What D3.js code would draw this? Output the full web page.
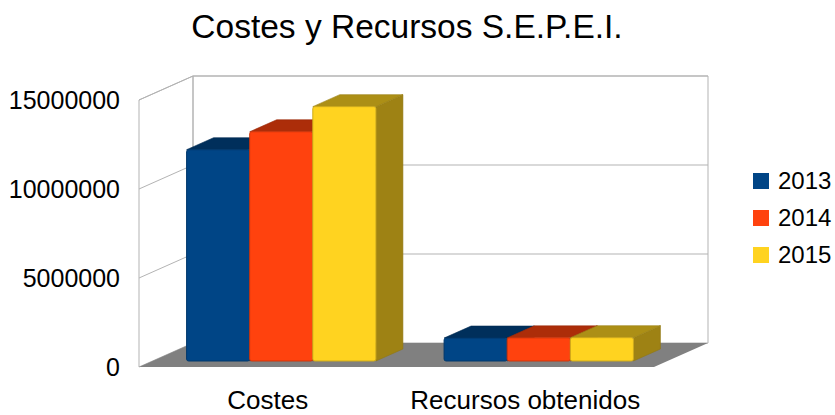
<!DOCTYPE html>
<html lang="es">
<head>
<meta charset="UTF-8">
<title>Costes y Recursos S.E.P.E.I.</title>
<script src="https://d3js.org/d3.v7.min.js"></script>
<style>
  body { margin: 0; background: #fff; }
  svg text { font-family: "Liberation Sans", Arial, sans-serif; fill: #000; }
  .wall { fill: none; stroke: #b3b3b3; stroke-width: 1; }
  .grid { stroke: #b3b3b3; stroke-width: 1; }
</style>
</head>
<body>
<svg id="chart" width="835" height="415"></svg>
<script>
const categories = ["Costes", "Recursos obtenidos"];
const years = ["2013", "2014", "2015"];
const values2013 = [11870000, 1290000];
const values2014 = [12880000, 1300000];
const values2015 = [14290000, 1310000];
const yTicks = [0, 5000000, 10000000, 15000000];
const colors = ["#004586", "#ff420e", "#ffd320"];

const series = years.map((y, i) => ({
  name: y,
  color: colors[i],
  values: [values2013, values2014, values2015][i]
}));

const svg = d3.select("#chart");

// front plane of the plot and the depth offset of the 3D box
const plotLeft = 139, plotRight = 654, plotBottom = 367, plotTop = 100;
const depthX = 54, depthY = -24;
const zFront = 0.25, zBack = 0.75;

const x = d3.scaleBand().domain(categories).range([plotLeft, plotRight]);
const xs = d3.scaleBand().domain(years)
  .range([0, x.bandwidth()]).paddingInner(0).paddingOuter(0.54);
const y = d3.scaleLinear().domain([0, 15000000]).range([plotBottom, plotTop]);

const px = (sx, z) => sx + depthX * z;
const py = (sy, z) => sy + depthY * z;
const pts = arr => arr.map(p => p.join(",")).join(" ");

// back wall
svg.append("polygon").attr("class", "wall")
  .attr("points", pts([
    [px(plotLeft, 1), py(y(15000000), 1)], [px(plotRight, 1), py(y(15000000), 1)],
    [px(plotRight, 1), py(y(0), 1)], [px(plotLeft, 1), py(y(0), 1)]
  ]));
// left wall
svg.append("polygon").attr("class", "wall")
  .attr("points", pts([
    [plotLeft, y(0)], [plotLeft, y(15000000)],
    [px(plotLeft, 1), py(y(15000000), 1)], [px(plotLeft, 1), py(y(0), 1)]
  ]));

// grid lines on both walls
yTicks.filter(v => v > 0).forEach(v => {
  svg.append("polyline").attr("class", "grid").attr("fill", "none")
    .attr("points", pts([
      [plotLeft, y(v)], [px(plotLeft, 1), py(y(v), 1)], [px(plotRight, 1), py(y(v), 1)]
    ]));
});

// floor
svg.append("polygon").attr("fill", "#808080")
  .attr("points", pts([
    [plotLeft, y(0)], [plotRight, y(0)],
    [px(plotRight, 1), py(y(0), 1)], [px(plotLeft, 1), py(y(0), 1)]
  ]));

// bars
const dz = zBack - zFront;
categories.forEach((cat, ci) => {
  series.forEach(s => {
    const x0 = px(x(cat) + xs(s.name), zFront);
    const x1 = x0 + xs.bandwidth();
    const yT = py(y(s.values[ci]), zFront);
    const yB = py(y(0), zFront);
    const ddx = depthX * dz, ddy = depthY * dz;
    const base = d3.rgb(s.color);
    const g = svg.append("g");
    g.append("polygon")
      .attr("fill", base.darker(1.35))
      .attr("stroke", base.darker(1.6)).attr("stroke-width", 0.6)
      .attr("points", pts([[x1, yT], [x1 + ddx, yT + ddy], [x1 + ddx, yB + ddy], [x1, yB]]));
    g.append("polygon")
      .attr("fill", base.darker(1.1))
      .attr("stroke", base.darker(1.4)).attr("stroke-width", 0.6)
      .attr("points", pts([[x0, yT], [x1, yT], [x1 + ddx, yT + ddy], [x0 + ddx, yT + ddy]]));
    g.append("rect")
      .attr("x", x0).attr("y", yT)
      .attr("width", x1 - x0).attr("height", yB - yT)
      .attr("rx", 2)
      .attr("fill", s.color)
      .attr("stroke", base.darker(0.6)).attr("stroke-width", 1);
  });
});

// y tick labels
svg.selectAll(".ytick").data(yTicks).enter().append("text")
  .attr("x", 120).attr("y", d => y(d)).attr("dy", "0.35em")
  .attr("text-anchor", "end").attr("font-size", 25)
  .text(d => d);

// category labels
svg.selectAll(".xlabel").data(categories).enter().append("text")
  .attr("x", d => x(d) + x.bandwidth() / 2)
  .attr("y", 409).attr("text-anchor", "middle").attr("font-size", 26)
  .text(d => d);

// title
svg.append("text").attr("x", 407).attr("y", 38)
  .attr("text-anchor", "middle").attr("font-size", 33.5)
  .text("Costes y Recursos S.E.P.E.I.");

// legend
const legend = svg.selectAll(".legend").data(series).enter().append("g")
  .attr("transform", (d, i) => `translate(753, ${181 + i * 37})`);
legend.append("rect").attr("x", 0).attr("y", -8).attr("width", 16).attr("height", 16)
  .attr("fill", d => d.color);
legend.append("text").attr("x", 25).attr("dy", "0.35em").attr("font-size", 24)
  .text(d => d.name);
</script>
</body>
</html>
